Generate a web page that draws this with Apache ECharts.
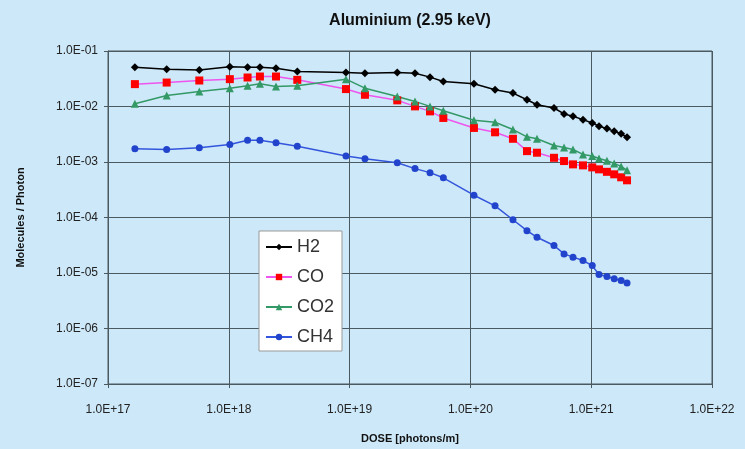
<!DOCTYPE html>
<html>
<head>
<meta charset="utf-8">
<script src="https://cdn.jsdelivr.net/npm/echarts@6/dist/echarts.min.js"></script>
<style>
html,body{margin:0;padding:0;background:#cde8f8;}
#chart{width:745px;height:449px;}
</style>
</head>
<body>
<div id="chart"></div>
<script>
const doses = [1.67e17, 3.06e17, 5.70e17, 1.02e18, 1.43e18, 1.81e18, 2.46e18, 3.69e18, 9.33e18, 1.34e19, 2.48e19, 3.48e19, 4.63e19, 5.97e19, 1.07e20, 1.60e20, 2.25e20, 2.94e20, 3.56e20, 4.92e20, 5.96e20, 7.07e20, 8.55e20, 1.02e21, 1.16e21, 1.35e21, 1.55e21, 1.77e21, 1.98e21];
const h2 = [0.051, 0.047, 0.0456, 0.052, 0.051, 0.051, 0.049, 0.0426, 0.0408, 0.0398, 0.0408, 0.0398, 0.0338, 0.0282, 0.0256, 0.020, 0.01746, 0.01324, 0.01077, 0.0094, 0.00734, 0.00665, 0.0058, 0.00506, 0.0044, 0.0040, 0.00358, 0.00322, 0.00279];
const co = [0.0253, 0.027, 0.0294, 0.0311, 0.0333, 0.0347, 0.0347, 0.0302, 0.0206, 0.01626, 0.0129, 0.01005, 0.00817, 0.00622, 0.00411, 0.00343, 0.00262, 0.00157, 0.00147, 0.00119, 0.00104, 0.000906, 0.000869, 0.0008, 0.000737, 0.000665, 0.0006, 0.00053, 0.000468];
const co2 = [0.0112, 0.0158, 0.0187, 0.0214, 0.0236, 0.0257, 0.0229, 0.0236, 0.0311, 0.0214, 0.0152, 0.01235, 0.01005, 0.0084, 0.00564, 0.00519, 0.00384, 0.00284, 0.00262, 0.00198, 0.00183, 0.00168, 0.00137, 0.00128, 0.00116, 0.00105, 0.000944, 0.000834, 0.000707];
const ch4 = [1.73e-3, 1.68e-3, 1.80e-3, 2.07e-3, 2.47e-3, 2.47e-3, 2.22e-3, 1.93e-3, 1.28e-3, 1.14e-3, 9.7e-4, 7.6e-4, 6.43e-4, 5.19e-4, 2.52e-4, 1.62e-4, 9.1e-5, 5.78e-5, 4.4e-5, 3.13e-5, 2.21e-5, 1.93e-5, 1.68e-5, 1.36e-5, 9.4e-6, 8.65e-6, 7.87e-6, 7.34e-6, 6.6e-6];
const seriesNames = ['H2', 'CO', 'CO2', 'CH4'];

function fmt(v) {
  const e = Math.round(Math.log10(v));
  return '1.0E' + (e < 0 ? '-' : '+') + String(Math.abs(e)).padStart(2, '0');
}
function pairs(ys) { return doses.map((d, i) => [d, ys[i]]); }

const styles = [
  {line: '#000000', mark: '#000000', symbol: 'diamond', size: 8},
  {line: '#ee55ee', mark: '#ff0000', symbol: 'rect', size: 8},
  {line: '#339966', mark: '#339966', symbol: 'triangle', size: 8},
  {line: '#3355dd', mark: '#2244cc', symbol: 'circle', size: 7}
];
const datasets = [h2, co, co2, ch4];

const chart = echarts.init(document.getElementById('chart'), null, {renderer: 'canvas'});
chart.setOption({
  backgroundColor: '#cde8f8',
  animation: false,
  title: {
    text: 'Aluminium (2.95 keV)',
    left: 405, top: 8, textAlign: 'center',
    textStyle: {fontFamily: 'Liberation Sans', fontWeight: 'bold', fontSize: 16, color: '#111'}
  },
  grid: {left: 108, right: 33, top: 51, bottom: 63, show: true, backgroundColor: '#cde8f8', borderColor: '#4a5a60', borderWidth: 1},
  legend: {
    orient: 'vertical', left: 259, top: 231,
    backgroundColor: '#ffffff', borderColor: '#999', borderWidth: 1,
    padding: [7, 8, 5, 6], itemGap: 12, itemWidth: 26, itemHeight: 8,
    textStyle: {fontFamily: 'Liberation Sans', fontSize: 18, color: '#333'},
    data: seriesNames
  },
  xAxis: {
    type: 'log', logBase: 10, min: 1e17, max: 1e22, splitNumber: 5,
    name: 'DOSE [photons/m]', nameLocation: 'middle', nameGap: 49,
    nameTextStyle: {fontFamily: 'Liberation Sans', fontWeight: 'bold', fontSize: 11, color: '#111'},
    axisLine: {lineStyle: {color: '#4a5a60'}},
    axisTick: {show: true, inside: false, length: 4, lineStyle: {color: '#4a5a60'}},
    axisLabel: {formatter: fmt, fontFamily: 'Liberation Sans', fontSize: 12, color: '#222', margin: 20},
    splitLine: {show: true, lineStyle: {color: '#4a5a60', width: 1}},
    minorTick: {show: false}
  },
  yAxis: {
    type: 'log', logBase: 10, min: 1e-7, max: 1e-1, splitNumber: 6,
    name: 'Molecules / Photon', nameLocation: 'middle', nameGap: 82,
    nameTextStyle: {fontFamily: 'Liberation Sans', fontWeight: 'bold', fontSize: 11, color: '#111'},
    axisLine: {show: true, lineStyle: {color: '#4a5a60'}},
    axisTick: {show: true, inside: false, length: 4, lineStyle: {color: '#4a5a60'}},
    axisLabel: {formatter: fmt, fontFamily: 'Liberation Sans', fontSize: 12, color: '#222', margin: 10},
    splitLine: {show: true, lineStyle: {color: '#4a5a60', width: 1}}
  },
  series: seriesNames.map((n, k) => ({
    name: n, type: 'line', data: pairs(datasets[k]),
    symbol: styles[k].symbol, symbolSize: styles[k].size, showSymbol: true,
    lineStyle: {color: styles[k].line, width: 1.5},
    itemStyle: {color: styles[k].mark},
    emphasis: {disabled: true}
  }))
});
</script>
</body>
</html>
